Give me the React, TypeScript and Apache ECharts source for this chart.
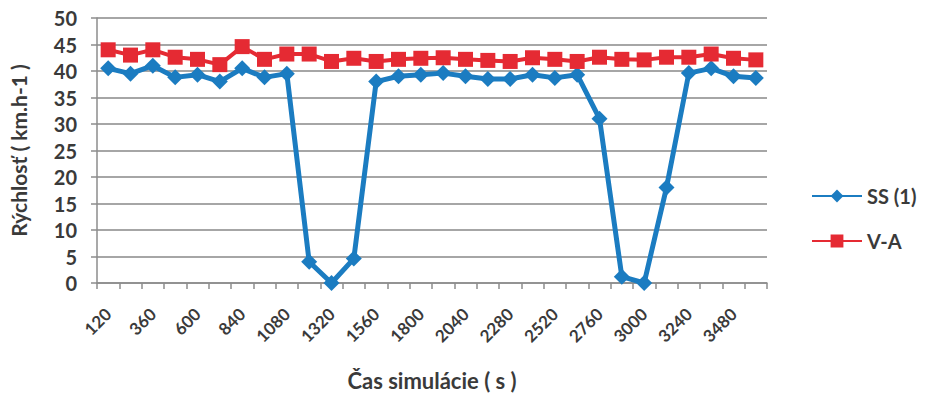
import React, { useEffect, useRef } from "react";
import * as echarts from "echarts";

const categories = [
  "120", "240", "360", "480", "600", "720", "840", "960", "1080", "1200",
  "1320", "1440", "1560", "1680", "1800", "1920", "2040", "2160", "2280", "2400",
  "2520", "2640", "2760", "2880", "3000", "3120", "3240", "3360", "3480", "3600",
];

const ssValues = [
  40.5, 39.5, 41, 38.8, 39.3, 38, 40.5, 38.8, 39.5, 4,
  0, 4.6, 38, 39, 39.3, 39.6, 39, 38.5, 38.5, 39.3,
  38.7, 39.3, 31, 1.2, 0, 18, 39.6, 40.5, 39, 38.7,
];

const vaValues = [
  44, 43, 44, 42.6, 42.2, 41.2, 44.6, 42.2, 43.2, 43.2,
  41.8, 42.4, 41.8, 42.2, 42.4, 42.5, 42.2, 42, 41.8, 42.5,
  42.2, 41.8, 42.6, 42.2, 42.1, 42.6, 42.6, 43.2, 42.4, 42.1,
];

const FONT = "Lato, 'Open Sans', sans-serif";
const TEXT = "#3a3a3a";

export default function App() {
  const ref = useRef<HTMLDivElement>(null);

  useEffect(() => {
    if (!ref.current) return;
    const chart = echarts.init(ref.current, undefined, { renderer: "svg" });
    chart.setOption({
      animation: false,
      backgroundColor: "#ffffff",
      grid: { left: 97, right: 158, top: 18, bottom: 126, containLabel: false },
      legend: {
        orient: "vertical",
        left: 806,
        top: 181,
        itemWidth: 50,
        itemHeight: 16,
        itemGap: 25,
        textStyle: { fontFamily: FONT, fontSize: 20, fontWeight: "bold", color: TEXT },
        data: ["SS (1)", "V-A"],
      },
      xAxis: {
        type: "category",
        data: categories,
        boundaryGap: true,
        name: "Čas simulácie ( s )",
        nameLocation: "middle",
        nameGap: 86,
        nameTextStyle: { fontFamily: FONT, fontSize: 22, fontWeight: "bold", color: TEXT },
        axisLine: { show: true, lineStyle: { color: "#8c8c8c", width: 1.5 } },
        axisTick: { show: true, interval: 0, length: 6, lineStyle: { color: "#8c8c8c", width: 1.5 } },
        axisLabel: {
          interval: 1,
          rotate: 45,
          fontFamily: FONT,
          fontSize: 17,
          fontWeight: "bold",
          color: TEXT,
          margin: 28,
        },
        splitLine: { show: false },
      },
      yAxis: {
        type: "value",
        min: 0,
        max: 50,
        interval: 5,
        name: "Rýchlosť ( km.h-1 )",
        nameLocation: "middle",
        nameGap: 68,
        nameRotate: 90,
        nameTextStyle: { fontFamily: FONT, fontSize: 21, fontWeight: "bold", color: TEXT },
        axisLine: { show: true, lineStyle: { color: "#8c8c8c", width: 1.5 } },
        axisTick: { show: true, length: 6, lineStyle: { color: "#8c8c8c", width: 1.5 } },
        axisLabel: {
          fontFamily: FONT,
          fontSize: 20,
          fontWeight: "bold",
          color: TEXT,
          margin: 20,
        },
        splitLine: { show: true, lineStyle: { color: "#a6a6a6", width: 2 } },
      },
      series: [
        {
          name: "SS (1)",
          type: "line",
          data: ssValues,
          symbol: "diamond",
          symbolSize: 16,
          showAllSymbol: true,
          color: "#1b7cc1",
          lineStyle: { width: 5, color: "#1b7cc1" },
          itemStyle: { color: "#1b7cc1" },
          z: 2,
        },
        {
          name: "V-A",
          type: "line",
          data: vaValues,
          symbol: "rect",
          symbolSize: 15,
          showAllSymbol: true,
          color: "#e52a33",
          lineStyle: { width: 4, color: "#e52a33" },
          itemStyle: { color: "#e52a33" },
          z: 3,
        },
      ],
    });
    return () => chart.dispose();
  }, []);

  return (
    <div
      ref={ref}
      style={{ position: "fixed", left: 0, top: 0, width: 925, height: 409 }}
    />
  );
}
